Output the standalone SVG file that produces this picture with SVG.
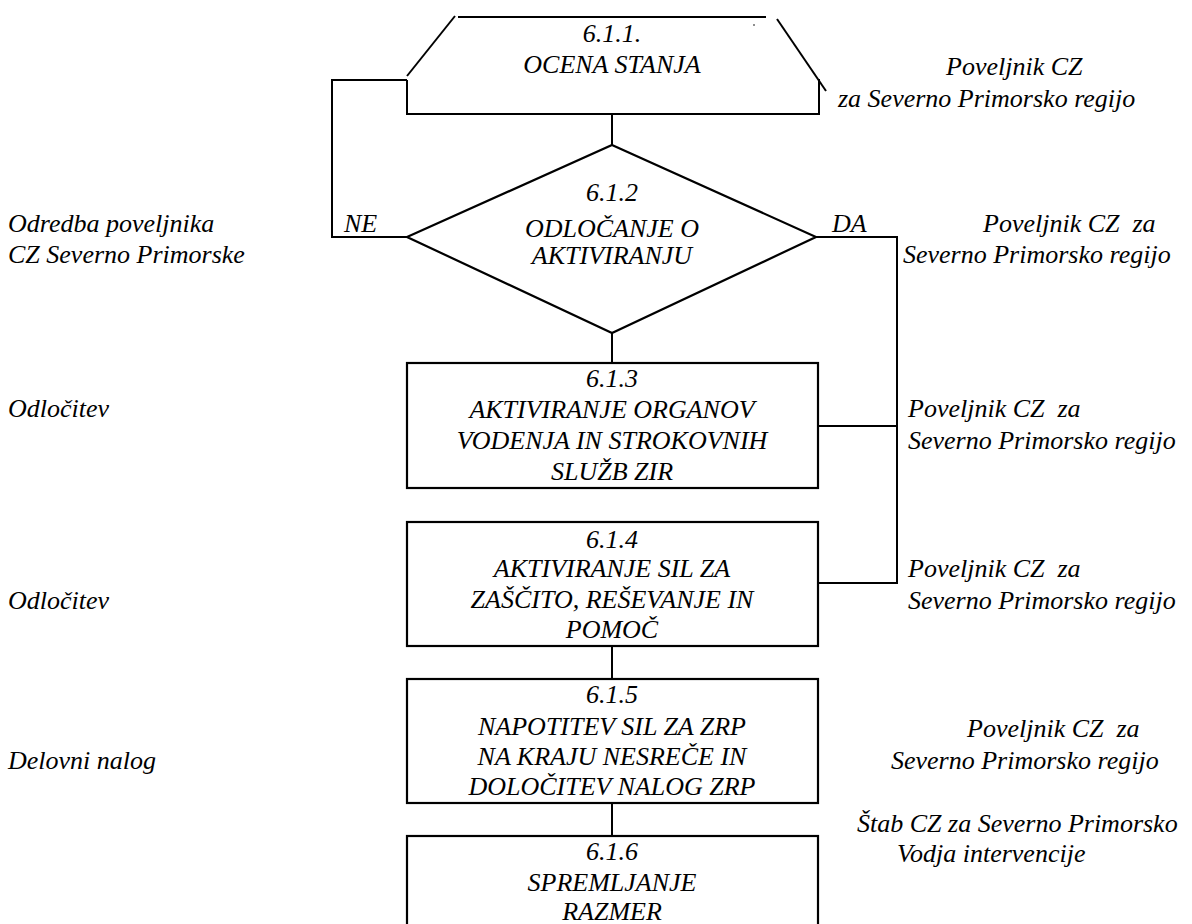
<svg xmlns="http://www.w3.org/2000/svg" width="1192" height="924" viewBox="0 0 1192 924">
<rect width="1192" height="924" fill="#fff"/>
<g id="connectors" fill="none" stroke="#000" stroke-width="2">
<polyline points="407,237 332,237 332,80 407,80"/>
<line x1="612" y1="114" x2="612" y2="145"/>
<line x1="612" y1="333" x2="612" y2="363"/>
<polyline points="816,237 897,237 897,583 818,583"/>
<line x1="818" y1="426" x2="897" y2="426"/>
<line x1="612" y1="646" x2="612" y2="679"/>
<line x1="612" y1="803" x2="612" y2="836"/>
</g>
<g id="branch-labels" fill="#000">
<text x="344" y="232" font-family="Tinos, serif" font-style="italic" font-size="26">NE</text>
<text x="832" y="232" font-family="Tinos, serif" font-style="italic" font-size="26">DA</text>
</g>
<g id="n611">
<g fill="none" stroke="#000" stroke-width="2">
<line x1="458" y1="17" x2="766" y2="17"/>
<line x1="455" y1="16" x2="407" y2="76"/>
<line x1="777" y1="19" x2="826" y2="91"/>
<polyline points="407,80 407,114 819,114 819,79"/>
</g>
<circle cx="754" cy="25" r="0.8" fill="#000"/>
<text x="612" y="42" text-anchor="middle" font-family="Tinos, serif" font-style="italic" font-size="26">6.1.1.</text>
<text x="612" y="73" text-anchor="middle" font-family="Tinos, serif" font-style="italic" font-size="26">OCENA STANJA</text>
</g>
<g id="n612">
<polygon points="612,145 816,237 612,333 407,237" fill="#fff" stroke="#000" stroke-width="2.2"/>
<text x="612" y="201" text-anchor="middle" font-family="Tinos, serif" font-style="italic" font-size="26">6.1.2</text>
<text x="612" y="237" text-anchor="middle" font-family="Tinos, serif" font-style="italic" font-size="26">ODLOČANJE O</text>
<text x="612" y="264" text-anchor="middle" font-family="Tinos, serif" font-style="italic" font-size="26">AKTIVIRANJU</text>
</g>
<g id="n613">
<rect x="407" y="363" width="411" height="125" fill="#fff" stroke="#000" stroke-width="2.2"/>
<text x="612" y="387" text-anchor="middle" font-family="Tinos, serif" font-style="italic" font-size="26">6.1.3</text>
<text x="612" y="418" text-anchor="middle" font-family="Tinos, serif" font-style="italic" font-size="26">AKTIVIRANJE ORGANOV</text>
<text x="612" y="449" text-anchor="middle" font-family="Tinos, serif" font-style="italic" font-size="26">VODENJA IN STROKOVNIH</text>
<text x="612" y="480" text-anchor="middle" font-family="Tinos, serif" font-style="italic" font-size="26">SLUŽB ZIR</text>
</g>
<g id="n614">
<rect x="407" y="522" width="411" height="124" fill="#fff" stroke="#000" stroke-width="2.2"/>
<text x="612" y="548" text-anchor="middle" font-family="Tinos, serif" font-style="italic" font-size="26">6.1.4</text>
<text x="612" y="577" text-anchor="middle" font-family="Tinos, serif" font-style="italic" font-size="26">AKTIVIRANJE SIL ZA</text>
<text x="612" y="608" text-anchor="middle" font-family="Tinos, serif" font-style="italic" font-size="26">ZAŠČITO, REŠEVANJE IN</text>
<text x="612" y="638" text-anchor="middle" font-family="Tinos, serif" font-style="italic" font-size="26">POMOČ</text>
</g>
<g id="n615">
<rect x="407" y="679" width="411" height="124" fill="#fff" stroke="#000" stroke-width="2.2"/>
<text x="612" y="703" text-anchor="middle" font-family="Tinos, serif" font-style="italic" font-size="26">6.1.5</text>
<text x="612" y="735" text-anchor="middle" font-family="Tinos, serif" font-style="italic" font-size="26">NAPOTITEV SIL ZA ZRP</text>
<text x="612" y="765" text-anchor="middle" font-family="Tinos, serif" font-style="italic" font-size="26">NA KRAJU NESREČE IN</text>
<text x="612" y="795" text-anchor="middle" font-family="Tinos, serif" font-style="italic" font-size="26">DOLOČITEV NALOG ZRP</text>
</g>
<g id="n616">
<rect x="407" y="836" width="411" height="110" fill="#fff" stroke="#000" stroke-width="2.2"/>
<text x="612" y="860" text-anchor="middle" font-family="Tinos, serif" font-style="italic" font-size="26">6.1.6</text>
<text x="612" y="891" text-anchor="middle" font-family="Tinos, serif" font-style="italic" font-size="26">SPREMLJANJE</text>
<text x="612" y="920" text-anchor="middle" font-family="Tinos, serif" font-style="italic" font-size="26">RAZMER</text>
</g>
<g id="labels" fill="#000">
<text x="946" y="75" font-family="Tinos, serif" font-style="italic" font-size="26">Poveljnik CZ</text>
<text x="838" y="107" font-family="Tinos, serif" font-style="italic" font-size="26">za Severno Primorsko regijo</text>
<text x="8" y="232" font-family="Tinos, serif" font-style="italic" font-size="26">Odredba poveljnika</text>
<text x="8" y="263" font-family="Tinos, serif" font-style="italic" font-size="26">CZ Severno Primorske</text>
<text x="983" y="232" xml:space="preserve" font-family="Tinos, serif" font-style="italic" font-size="26">Poveljnik CZ  za</text>
<text x="903" y="263" font-family="Tinos, serif" font-style="italic" font-size="26">Severno Primorsko regijo</text>
<text x="8" y="417" font-family="Tinos, serif" font-style="italic" font-size="26">Odločitev</text>
<text x="908" y="417" xml:space="preserve" font-family="Tinos, serif" font-style="italic" font-size="26">Poveljnik CZ  za</text>
<text x="908" y="449" font-family="Tinos, serif" font-style="italic" font-size="26">Severno Primorsko regijo</text>
<text x="908" y="577" xml:space="preserve" font-family="Tinos, serif" font-style="italic" font-size="26">Poveljnik CZ  za</text>
<text x="8" y="609" font-family="Tinos, serif" font-style="italic" font-size="26">Odločitev</text>
<text x="908" y="609" font-family="Tinos, serif" font-style="italic" font-size="26">Severno Primorsko regijo</text>
<text x="967" y="737" xml:space="preserve" font-family="Tinos, serif" font-style="italic" font-size="26">Poveljnik CZ  za</text>
<text x="8" y="769" font-family="Tinos, serif" font-style="italic" font-size="26">Delovni nalog</text>
<text x="891" y="769" font-family="Tinos, serif" font-style="italic" font-size="26">Severno Primorsko regijo</text>
<text x="857" y="832" font-family="Tinos, serif" font-style="italic" font-size="26">Štab CZ za Severno Primorsko</text>
<text x="897" y="862" font-family="Tinos, serif" font-style="italic" font-size="26">Vodja intervencije</text>
</g>
</svg>
